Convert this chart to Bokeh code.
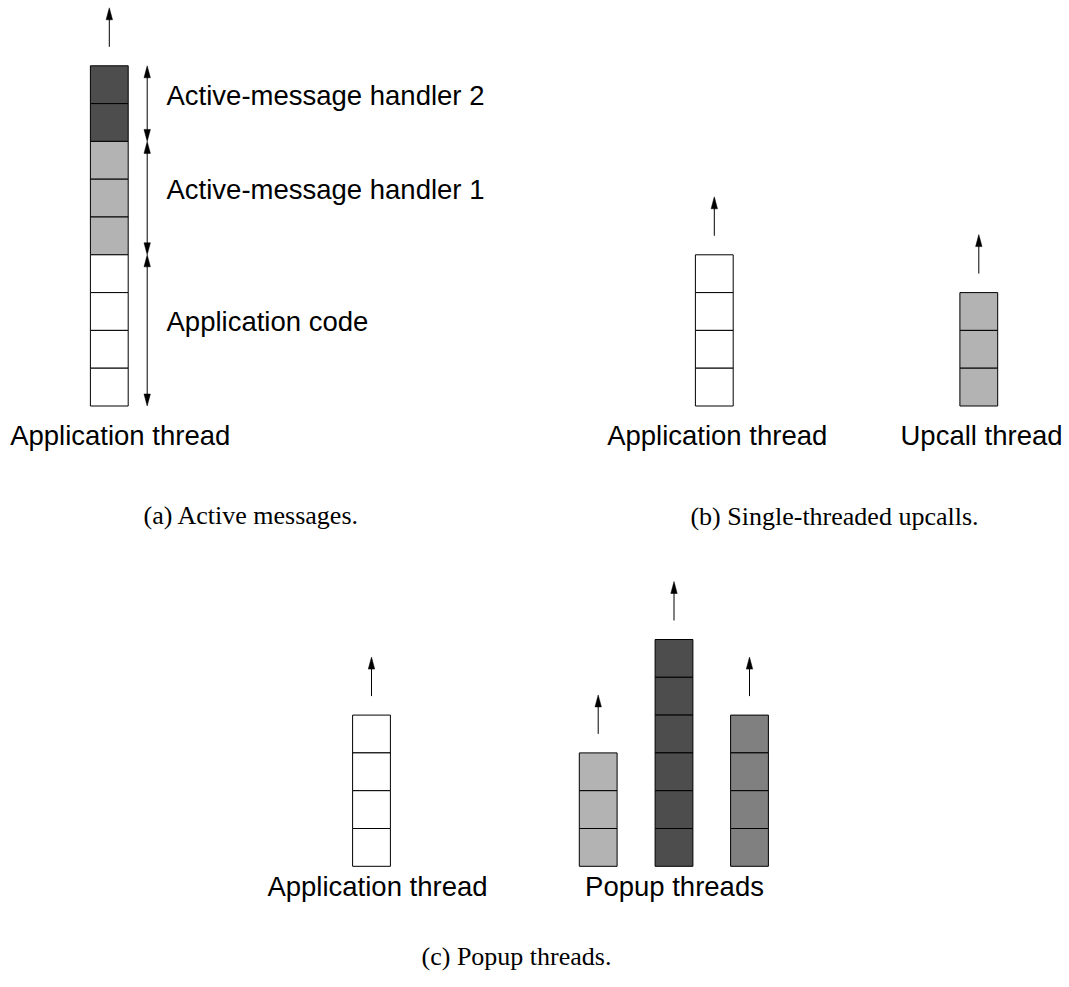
from bokeh.plotting import figure
from bokeh.models import Range1d
from bokeh.core.properties import value
from bokeh.embed import file_html
from bokeh.resources import INLINE

# ---------------- data ----------------
# cells of each thread stack, listed top to bottom
stack_a_app = ["am2", "am2", "am1", "am1", "am1", "app", "app", "app", "app"]
stack_b_app = ["app", "app", "app", "app"]
stack_b_upcall = ["up", "up", "up"]
stack_c_app = ["app", "app", "app", "app"]
stack_c_pop1 = ["p1", "p1", "p1"]
stack_c_pop2 = ["p2", "p2", "p2", "p2", "p2", "p2"]
stack_c_pop3 = ["p3", "p3", "p3", "p3"]

# annotation groups of panel (a), top to bottom
group_labels = ["Active-message handler 2", "Active-message handler 1", "Application code"]
group_sizes = [2, 3, 4]

thread_labels = ["Application thread", "Application thread", "Upcall thread",
                 "Application thread", "Popup threads"]
captions = ["(a) Active messages.", "(b) Single-threaded upcalls.", "(c) Popup threads."]

# ---------------- layout / styles ----------------
cell_colors = {"app": "#ffffff", "am1": "#b3b3b3", "am2": "#4d4d4d",
               "up": "#b3b3b3", "p1": "#b3b3b3", "p2": "#4d4d4d", "p3": "#808080"}
CELL = 37.8
stacks = [  # (cells, center x, bottom y)
    (stack_a_app, 108.8, 405.5),
    (stack_b_app, 713.8, 405.5),
    (stack_b_upcall, 978.3, 405.5),
    (stack_c_app, 371.0, 865.8),
    (stack_c_pop1, 597.7, 865.8),
    (stack_c_pop2, 673.5, 865.8),
    (stack_c_pop3, 749.0, 865.8),
]
SANS_SHIFT = -8.5
SERIF_SHIFT = -10.0
thread_label_pos = [(119.7, 443.3), (716.7, 443.3), (981.0, 443.3),
                    (377.0, 894.0), (674.0, 894.0)]
caption_pos = [(251.0, 525.0), (834.0, 525.5), (516.0, 966.0)]
ANNOT_X = 146.7
ANNOT_TEXT_X = 166.0
ARROW_GAP = 19.0
ARROW_LEN = 39.0
HEAD_LEN = 12.0
HEAD_HW = 3.2

SANS = "Liberation Sans"
SERIF = "Liberation Serif"

W, H = 1066, 984
p = figure(width=W, height=H, output_backend="svg", toolbar_location=None,
           x_range=Range1d(0, W), y_range=Range1d(H, 0),
           min_border=0, outline_line_color=None, background_fill_color="white")
p.axis.visible = False
p.grid.visible = False

# cells
L, R, T, B, C = [], [], [], [], []
shaft_x0, shaft_y0, shaft_x1, shaft_y1 = [], [], [], []
head_xs, head_ys = [], []

def add_head(x, tip, direction):
    # direction -1 -> points up (towards smaller y), +1 -> down
    base = tip - direction * HEAD_LEN
    head_xs.append([x - HEAD_HW, x, x + HEAD_HW])
    head_ys.append([base, tip, base])

for cells, cx, bottom in stacks:
    n = len(cells)
    top = bottom - n * CELL
    for i, c in enumerate(cells):
        L.append(cx - CELL / 2)
        R.append(cx + CELL / 2)
        T.append(top + i * CELL)
        B.append(top + (i + 1) * CELL)
        C.append(cell_colors[c])
    tail = top - ARROW_GAP
    tip = tail - ARROW_LEN
    shaft_x0.append(cx); shaft_y0.append(tail)
    shaft_x1.append(cx); shaft_y1.append(tip + 3)
    add_head(cx, tip, -1)

p.quad(left=L, right=R, top=T, bottom=B, fill_color=C, line_color="black", line_width=1)

# annotation double arrows of panel (a)
cells_a, cx_a, bottom_a = stacks[0]
top_a = bottom_a - len(cells_a) * CELL
pos = top_a
text_y = []
for size in group_sizes:
    y0, y1 = pos, pos + size * CELL
    shaft_x0.append(ANNOT_X); shaft_y0.append(y0 + 3)
    shaft_x1.append(ANNOT_X); shaft_y1.append(y1 - 3)
    add_head(ANNOT_X, y0, -1)
    add_head(ANNOT_X, y1, 1)
    text_y.append((y0 + y1) / 2 + SANS_SHIFT)
    pos = y1

p.segment(x0=shaft_x0, y0=shaft_y0, x1=shaft_x1, y1=shaft_y1, line_color="black", line_width=1)
p.patches(xs=head_xs, ys=head_ys, fill_color="black", line_color="black", line_width=0.5)

p.text(x=[ANNOT_TEXT_X] * len(group_labels), y=text_y, text=group_labels,
       text_font=value(SANS), text_font_size="27.5px", text_align="left",
       text_baseline="alphabetic", text_color="black")

p.text(x=[q[0] for q in thread_label_pos], y=[q[1] + SANS_SHIFT for q in thread_label_pos],
       text=thread_labels,
       text_font=value(SANS), text_font_size="27.5px", text_align="center",
       text_baseline="alphabetic", text_color="black")

p.text(x=[q[0] for q in caption_pos], y=[q[1] + SERIF_SHIFT for q in caption_pos], text=captions,
       text_font=value(SERIF), text_font_size="26px", text_align="center",
       text_baseline="alphabetic", text_color="black")

open("out.html", "w").write(file_html(p, INLINE))
